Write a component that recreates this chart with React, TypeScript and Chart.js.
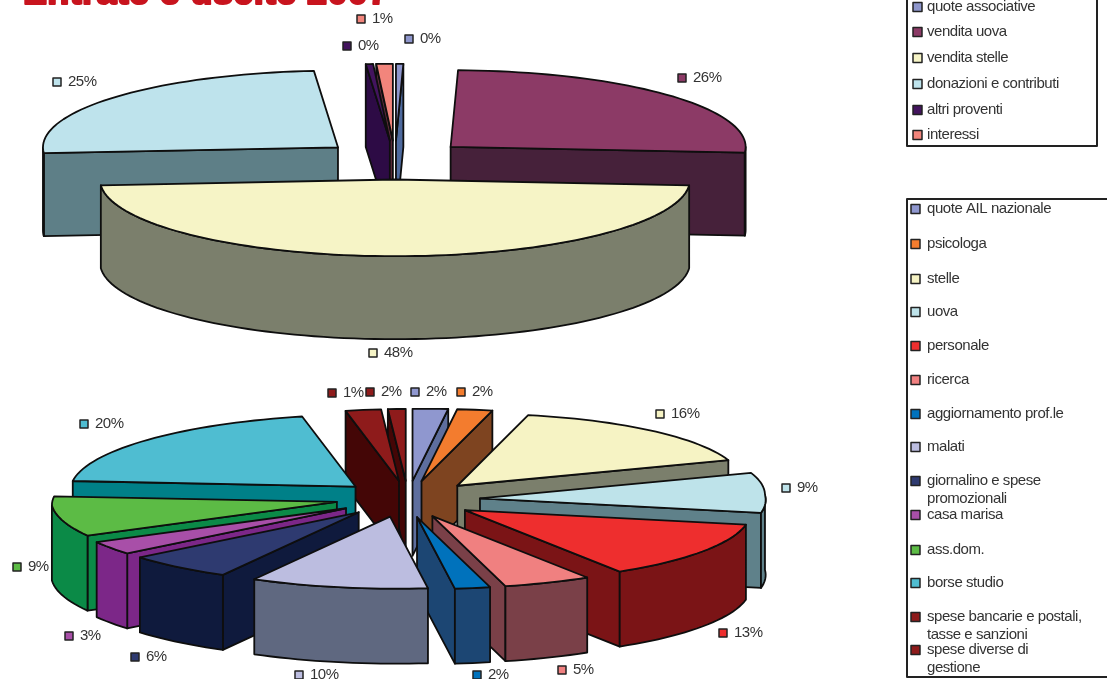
import { useEffect, useRef } from "react";
import { Chart, registerables } from "chart.js";

Chart.register(...registerables);

const TITLE = "Entrate e uscite 2007";

const incomeLabels = [
  ["quote associative"],
  ["vendita uova"],
  ["vendita stelle"],
  ["donazioni e contributi"],
  ["altri proventi"],
  ["interessi"],
];
const incomeValues = [0.4, 25.8, 47.6, 24.9, 0.4, 0.9];
const incomeTop = ["#8E96CC", "#8C3A66", "#F6F4C6", "#BEE3EC", "#43145E", "#F2857C"];
const incomeSide = ["#4E6A9E", "#46213A", "#7B7F6C", "#5E7F87", "#2D0B45", "#5B2A3A"];

const expenseLabels = [
  ["quote AIL nazionale"],
  ["psicologa"],
  ["stelle"],
  ["uova"],
  ["personale"],
  ["ricerca"],
  ["aggiornamento prof.le"],
  ["malati"],
  ["giornalino e spese", "promozionali"],
  ["casa marisa"],
  ["ass.dom."],
  ["borse studio"],
  ["spese bancarie e postali,", "tasse e sanzioni"],
  ["spese diverse di", "gestione"],
];
const expenseValues = [2, 2, 16, 9, 13, 5, 2, 10, 6, 3, 9, 20, 2, 1];
const expenseTop = [
  "#8F97CF", "#F37C2E", "#F6F3C4", "#BEE3EA", "#EE2E2E", "#F08080", "#0072BC",
  "#BCBDE0", "#2E3A70", "#A84FA8", "#5CBB45", "#4FBDD1", "#8E1B1B", "#8E1B1B",
];
const expenseSide = [
  "#5E6E9E", "#7E4420", "#7B7F6C", "#5F818A", "#7B1416", "#7A4048", "#1C4673",
  "#5F6880", "#0F1A3D", "#7C2788", "#0B8A47", "#008088", "#440606", "#440606",
];

const TEXT = "#333333";
const LINE = "#0E0E0E";
const FONT = "'Liberation Sans', Arial, sans-serif";

type Placement = [number, number];

interface SolidOptions {
  tilt: number;
  depth: number;
  lean: number;
  roll: number;
  sideColors: string[];
  labelSpots: Placement[];
  legendBox: { left: number; top: number; right: number; bottom: number };
  legendInset: number;
  legendRows: number[];
  lineGap: number;
  title?: string;
}

function drawMarker(ctx: CanvasRenderingContext2D, x: number, y: number, color: string, size = 8) {
  ctx.fillStyle = color;
  ctx.strokeStyle = "#222222";
  ctx.lineWidth = 1.5;
  ctx.fillRect(x, y - size / 2, size, size);
  ctx.strokeRect(x, y - size / 2, size, size);
}

// Paints one exploded wedge: the walls that face the viewer, then the top face.
function drawWedge(ctx: CanvasRenderingContext2D, arc: any, opts: SolidOptions, top: string, side: string) {
  const { tilt, depth, lean, roll } = opts;
  const { startAngle: s, endAngle: e, outerRadius: r } = arc;
  const mid = (s + e) / 2;
  const pull = (arc.options.offset || 0) / 4;
  const ax = arc.x + Math.cos(mid) * pull;
  const ay = arc.y + Math.sin(mid) * pull * tilt;

  // Rim point of the tilted disc; the front half leans sideways as a perspective view does.
  const rim = (a: number): [number, number] => [
    ax + Math.cos(a) * r + lean * Math.max(0, Math.sin(a)),
    ay + Math.sin(a) * r * tilt - roll * Math.cos(a),
  ];
  const trace = (from: number, to: number, drop: number) => {
    const steps = Math.max(2, Math.ceil((Math.abs(to - from) * 180) / Math.PI / 2));
    for (let i = 0; i <= steps; i++) {
      const [x, y] = rim(from + ((to - from) * i) / steps);
      ctx.lineTo(x, y + drop);
    }
  };

  ctx.lineWidth = 1.8;
  ctx.lineJoin = "round";
  ctx.strokeStyle = LINE;
  ctx.fillStyle = side;

  const radialWall = (a: number) => {
    const [px, py] = rim(a);
    ctx.beginPath();
    ctx.moveTo(ax, ay);
    ctx.lineTo(px, py);
    ctx.lineTo(px, py + depth);
    ctx.lineTo(ax, ay + depth);
    ctx.closePath();
    ctx.fill();
    ctx.stroke();
  };
  if (Math.cos(s) < 0) radialWall(s);
  if (Math.cos(e) > 0) radialWall(e);

  const lo = Math.max(s, 0);
  const hi = Math.min(e, Math.PI);
  if (hi > lo) {
    ctx.beginPath();
    trace(lo, hi, 0);
    trace(hi, lo, depth);
    ctx.closePath();
    ctx.fill();
    ctx.stroke();
  }

  ctx.fillStyle = top;
  ctx.beginPath();
  ctx.moveTo(ax, ay);
  trace(s, e, 0);
  ctx.closePath();
  ctx.fill();
  ctx.stroke();
}

// Replaces the flat arcs of the pie with a tilted, extruded version built on the arc geometry.
const solidPie = {
  id: "solidPie",
  beforeDatasetsDraw(chart: any, _args: any, opts: SolidOptions) {
    const ctx: CanvasRenderingContext2D = chart.ctx;
    const arcs: any[] = chart.getDatasetMeta(0).data;
    const colors: string[] = chart.data.datasets[0].backgroundColor;
    const values: number[] = chart.data.datasets[0].data;
    const labels: string[][] = chart.data.labels;
    const total = values.reduce((a, b) => a + b, 0);

    const key = (arc: any) => {
      if (arc.startAngle <= Math.PI / 2 && arc.endAngle >= Math.PI / 2) return 2;
      return Math.sin((arc.startAngle + arc.endAngle) / 2);
    };
    arcs
      .map((arc, i) => ({ arc, i }))
      .sort((a, b) => key(a.arc) - key(b.arc))
      .forEach(({ arc, i }) => drawWedge(ctx, arc, opts, colors[i], opts.sideColors[i]));

    ctx.textBaseline = "middle";
    ctx.textAlign = "left";
    (ctx as any).letterSpacing = "-0.5px";
    ctx.font = `15px ${FONT}`;
    opts.labelSpots.forEach(([x, y], i) => {
      drawMarker(ctx, x - 4, y, colors[i]);
      ctx.fillStyle = TEXT;
      ctx.fillText(`${Math.round((values[i] / total) * 100)}%`, x + 11, y);
    });

    const box = opts.legendBox;
    ctx.strokeStyle = "#222222";
    ctx.lineWidth = 2;
    ctx.strokeRect(box.left, box.top, box.right - box.left, box.bottom - box.top);
    (ctx as any).letterSpacing = "-0.45px";
    ctx.font = `15px ${FONT}`;
    labels.forEach((lines, i) => {
      const y = opts.legendRows[i];
      drawMarker(ctx, box.left + opts.legendInset, y, colors[i], 9);
      ctx.fillStyle = TEXT;
      lines.forEach((line, n) => ctx.fillText(line, box.left + 20, y + n * opts.lineGap));
    });

    if (opts.title) {
      (ctx as any).letterSpacing = "0.35px";
      ctx.textBaseline = "alphabetic";
      ctx.font = `bold 36px ${FONT}`;
      ctx.fillStyle = "#C8141E";
      ctx.strokeStyle = "#C8141E";
      ctx.lineWidth = 2.2;
      ctx.fillText(opts.title, 23, 4);
      ctx.strokeText(opts.title, 23, 4);
    }
    return false;
  },
};

function makeChart(
  canvas: HTMLCanvasElement,
  labels: string[][],
  values: number[],
  colors: string[],
  radius: number,
  pull: number,
  padding: { left: number; right: number; top: number; bottom: number },
  solid: SolidOptions,
) {
  return new Chart(canvas, {
    type: "pie",
    data: {
      labels,
      datasets: [{ data: values, backgroundColor: colors, borderColor: LINE, borderWidth: 1, offset: pull }],
    },
    options: {
      animation: false,
      responsive: false,
      events: [],
      radius,
      layout: { padding },
      plugins: {
        legend: { display: false },
        tooltip: { enabled: false },
        solidPie: solid,
      },
    },
    plugins: [solidPie],
  } as any);
}

export default function App() {
  const incomeRef = useRef<HTMLCanvasElement>(null);
  const expenseRef = useRef<HTMLCanvasElement>(null);

  useEffect(() => {
    const income = makeChart(
      incomeRef.current!, incomeLabels, incomeValues, incomeTop, 295, 300,
      { left: 0, right: 317, top: 0, bottom: 359 },
      {
        tilt: 0.26,
        depth: 83,
        lean: 0,
        roll: 0,
        sideColors: incomeSide,
        labelSpots: [[409, 39], [682, 78], [373, 353], [57, 82], [347, 46], [361, 19]],
        legendBox: { left: 907, top: -10, right: 1097, bottom: 146 },
        legendInset: 6,
        legendRows: [7, 32, 58, 84, 110, 135],
        lineGap: 18,
        title: TITLE,
      },
    );
    const expense = makeChart(
      expenseRef.current!, expenseLabels, expenseValues, expenseTop, 285, 288,
      { left: 0, right: 291, top: 319, bottom: 0 },
      {
        tilt: 0.2526,
        depth: 75,
        lean: 20,
        roll: 3.5,
        sideColors: expenseSide,
        labelSpots: [
          [415, 392], [461, 392], [660, 414], [786, 488], [723, 633], [562, 670], [477, 675],
          [299, 675], [135, 657], [69, 636], [17, 567], [84, 424], [370, 392], [332, 393],
        ],
        legendBox: { left: 907, top: 199, right: 1120, bottom: 677 },
        legendInset: 4,
        legendRows: [209, 244, 279, 312, 346, 380, 414, 447, 481, 515, 550, 583, 617, 650],
        lineGap: 18,
      },
    );
    return () => {
      income.destroy();
      expense.destroy();
    };
  }, []);

  const layer = { position: "absolute", left: 0, top: 0 } as const;
  return (
    <div style={{ position: "absolute", left: 0, top: 0, width: 1107, height: 679, overflow: "hidden", background: "#fff" }}>
      <canvas ref={incomeRef} width={1107} height={679} style={layer} />
      <canvas ref={expenseRef} width={1107} height={679} style={layer} />
    </div>
  );
}
